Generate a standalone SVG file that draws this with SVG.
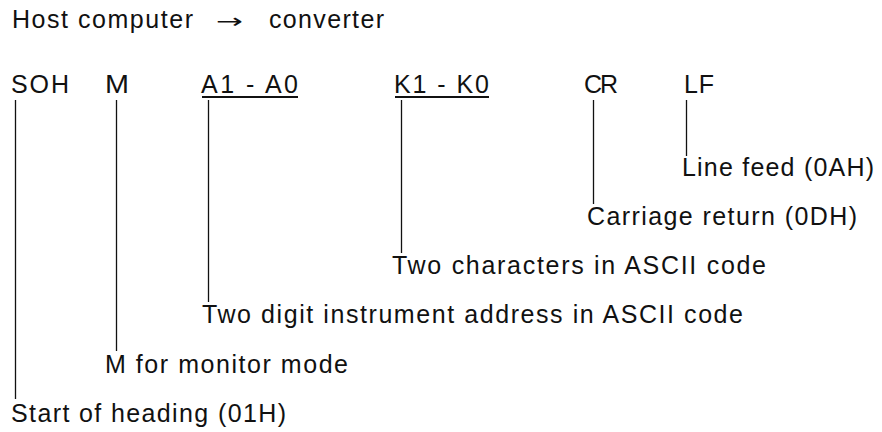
<svg xmlns="http://www.w3.org/2000/svg" width="882" height="432" viewBox="0 0 882 432">
  <style>
    text { font-family: "Liberation Sans", Arial, sans-serif; font-size: 25px; fill: #111; }
    .conn line { stroke: #111; stroke-width: 1.3; }
    .ul { stroke: #111; stroke-width: 2; }
  </style>
  <rect width="882" height="432" fill="#fff"/>
  <g id="title">
    <text x="12" y="28" textLength="181" lengthAdjust="spacing">Host computer</text>
    <text x="216" y="28" style="font-family:'DejaVu Sans',sans-serif;font-size:20px" textLength="27" lengthAdjust="spacingAndGlyphs">→</text>
    <text x="269" y="28" textLength="115" lengthAdjust="spacing">converter</text>
  </g>
  <g id="field-soh"><text x="11" y="93" textLength="58" lengthAdjust="spacing">SOH</text></g>
  <g id="field-m"><text x="105" y="93" textLength="24" lengthAdjust="spacingAndGlyphs">M</text></g>
  <g id="field-a"><text x="201" y="93" textLength="97" lengthAdjust="spacing">A1 - A0</text><line class="ul" x1="202" y1="97" x2="298" y2="97"/></g>
  <g id="field-k"><text x="394" y="93" textLength="95" lengthAdjust="spacing">K1 - K0</text><line class="ul" x1="395" y1="97" x2="489" y2="97"/></g>
  <g id="field-cr"><text x="584" y="93" textLength="34" lengthAdjust="spacing">CR</text></g>
  <g id="field-lf"><text x="684" y="93" textLength="30" lengthAdjust="spacing">LF</text></g>
  <g id="label-lf"><text x="682" y="176" textLength="192" lengthAdjust="spacing">Line feed (0AH)</text></g>
  <g id="label-cr"><text x="587" y="225" textLength="270" lengthAdjust="spacing">Carriage return (0DH)</text></g>
  <g id="label-k"><text x="392" y="274" textLength="374" lengthAdjust="spacing">Two characters in ASCII code</text></g>
  <g id="label-a"><text x="202" y="323" textLength="541" lengthAdjust="spacing">Two digit instrument address in ASCII code</text></g>
  <g id="label-m"><text x="105" y="373" textLength="243" lengthAdjust="spacing">M for monitor mode</text></g>
  <g id="label-soh"><text x="11" y="422" textLength="275" lengthAdjust="spacing">Start of heading (01H)</text></g>
  <g id="connectors" class="conn">
    <line x1="15.5" y1="100" x2="15.5" y2="399"/>
    <line x1="116.5" y1="100" x2="116.5" y2="351"/>
    <line x1="208.5" y1="100" x2="208.5" y2="302"/>
    <line x1="401.5" y1="100" x2="401.5" y2="253"/>
    <line x1="593.5" y1="100" x2="593.5" y2="204"/>
    <line x1="686.5" y1="100" x2="686.5" y2="156"/>
  </g>
</svg>
